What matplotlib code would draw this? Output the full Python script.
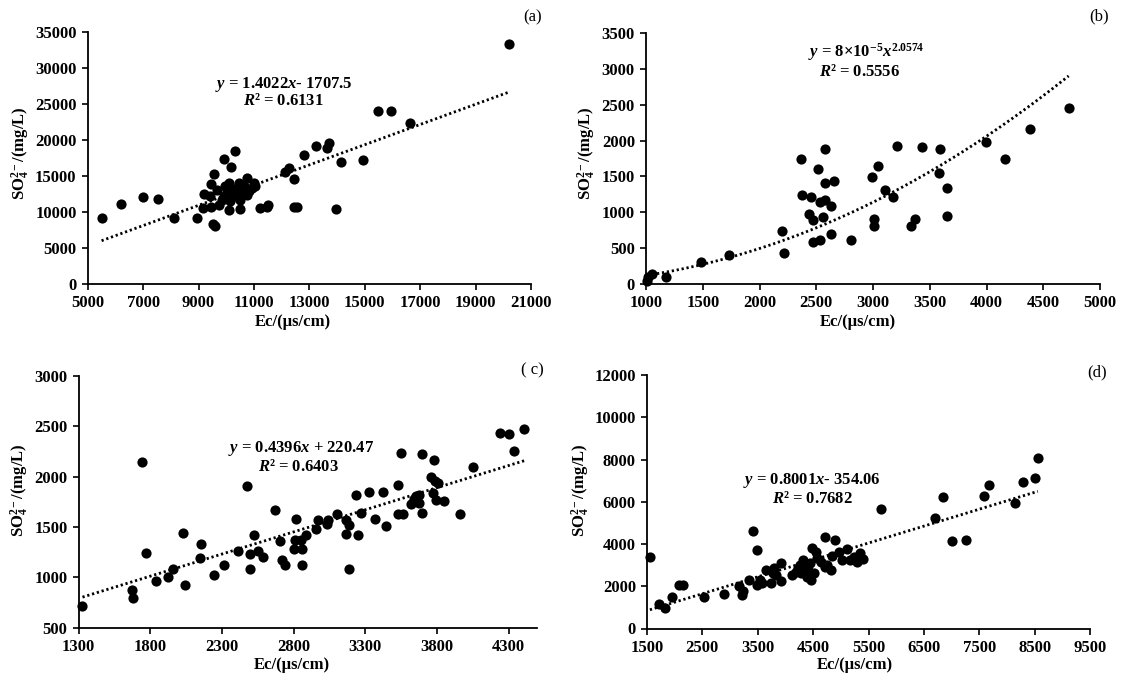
import numpy as np
import matplotlib
matplotlib.use("Agg")
import matplotlib.pyplot as plt

# Ec (us/cm) and SO4 2- (mg/L) for the four groups of samples
ec_a = [5500, 6200, 7000, 7550, 8100, 8950, 9930, 9550, 9450, 9180, 9400, 9670,
        9170, 9440, 9730, 9510, 9600, 10170, 10330, 10090, 10740, 10400, 10630,
        10930, 11050, 10030, 10270, 10510, 10750, 9850, 10150, 10510, 10090,
        10500, 9970, 10210, 10810, 10990, 10450, 9910, 11230, 11470, 11520,
        12130, 12250, 12430, 12450, 12560, 12790, 13230, 13640, 13700, 13960,
        14140, 14930, 15480, 15930, 16630, 20200]
so4_a = [9100, 11100, 12100, 11800, 9150, 9150, 17300, 15300, 13850, 12500,
         12150, 13100, 10600, 10650, 11000, 8300, 8050, 16200, 18400, 14050,
         14750, 13300, 13550, 13300, 13600, 12600, 12150, 12600, 12400, 11700,
         11450, 11700, 10200, 10400, 13550, 12850, 12850, 14000, 14000, 12150,
         10500, 10750, 10900, 15600, 16050, 14600, 10650, 10700, 17900, 19150,
         18900, 19550, 10450, 16950, 17200, 23950, 23950, 22350, 33300]

ec_b = [1010, 1016, 1053, 1179, 1481, 1732, 2194, 2216, 2370, 2377, 2436, 2455,
        2468, 2468, 2518, 2530, 2537, 2558, 2574, 2577, 2580, 2628, 2628, 2656,
        2806, 2989, 3008, 3008, 3045, 3105, 3177, 3215, 3335, 3366, 3435, 3586,
        3583, 3655, 3655, 3995, 4165, 4380, 4724]
so4_b = [42, 93, 135, 102, 307, 404, 739, 428, 1739, 1241, 981, 1209, 893, 586,
         1599, 1139, 618, 934, 1888, 1413, 1172, 1088, 697, 1437, 614, 1492, 907,
         814, 1650, 1311, 1209, 1920, 804, 902, 1915, 1883, 1548, 1334, 944,
         1985, 1743, 2162, 2459]

ec_c = [1327, 1670, 1677, 1742, 1767, 1843, 1925, 1958, 2030, 2042, 2146, 2154,
        2243, 2312, 2414, 2474, 2494, 2494, 2523, 2553, 2585, 2667, 2702, 2722,
        2739, 2801, 2816, 2809, 2861, 2861, 2888, 2853, 2958, 2970, 3032, 3037,
        3106, 3168, 3168, 3188, 3188, 3238, 3248, 3268, 3325, 3365, 3424, 3446,
        3526, 3526, 3548, 3565, 3618, 3640, 3657, 3677, 3677, 3697, 3697, 3757,
        3781, 3771, 3789, 3806, 3794, 3851, 3963, 4049, 4240, 4302, 4340, 4409]
so4_c = [712, 871, 798, 2141, 1246, 964, 1004, 1081, 1442, 925, 1193, 1336, 1027,
         1127, 1263, 1903, 1236, 1087, 1418, 1260, 1203, 1671, 1362, 1177, 1127,
         1283, 1575, 1376, 1279, 1127, 1418, 1369, 1485, 1571, 1534, 1574, 1634,
         1571, 1429, 1525, 1087, 1823, 1418, 1644, 1843, 1581, 1843, 1512, 1922,
         1634, 2237, 1634, 1730, 1783, 1810, 1817, 1737, 2230, 1644, 1999, 2164,
         1833, 1956, 1933, 1767, 1760, 1631, 2098, 2430, 2420, 2257, 2473]

ec_d = [1552, 1713, 1829, 1945, 2081, 2158, 2532, 2894, 3158, 3216, 3229, 3339,
        3416, 3481, 3481, 3532, 3577, 3655, 3739, 3771, 3790, 3835, 3913, 3913,
        4126, 4190, 4223, 4268, 4287, 4319, 4352, 4384, 4416, 4448, 4468, 4481,
        4513, 4545, 4577, 4642, 4706, 4706, 4758, 4816, 4848, 4900, 4965, 5029,
        5113, 5158, 5242, 5287, 5339, 5403, 5719, 6706, 6848, 7016, 7255, 7584,
        7674, 8145, 8287, 8513, 8558]
so4_d = [3375, 1151, 994, 1483, 2066, 2066, 1514, 1640, 2035, 1593, 1798, 2303,
         4606, 3722, 2066, 2303, 2177, 2776, 2177, 2618, 2855, 2539, 3091, 2256,
         2539, 2697, 2855, 3013, 2618, 3249, 2934, 2461, 2776, 3091, 2303, 3833,
         2618, 3644, 3328, 3170, 4353, 2934, 3013, 2776, 3454, 4196, 3612, 3249,
         3785, 3249, 3407, 3170, 3565, 3312, 5647, 5221, 6246, 4164, 4196, 6293,
         6798, 5931, 6956, 7145, 8060]

W, H = 1121, 674

params = {
    "font.family": "serif",
    "font.serif": ["Liberation Serif", "DejaVu Serif"],
    "font.weight": "bold",
    "font.size": 12,
    "mathtext.fontset": "custom",
    "mathtext.rm": "Liberation Serif:bold",
    "mathtext.bf": "Liberation Serif:bold",
    "mathtext.it": "Liberation Serif:italic:bold",
    "axes.linewidth": 1.3,
}
plt.rcParams.update(params)

fig = plt.figure(figsize=(W / 100, H / 100), dpi=100)


def px(x, y):
    # pixel position -> figure fraction
    return x / W, 1 - y / H


def panel(rect, ec, so4, xlim, xticks, ylim, yticks, fit, eq, r2, tag,
          eq_xy, r2_xy, tag_xy, xl_xy, yl_xy):
    l, t, r, b = rect
    ax = fig.add_axes([l / W, 1 - b / H, (r - l) / W, (b - t) / H])
    ax.scatter(ec, so4, s=54, color="black", zorder=3, clip_on=False,
               linewidths=0)
    xf = np.linspace(min(ec), max(ec), 300)
    ax.plot(xf, fit(xf), color="black", lw=2.0, ls=(0, (0.8, 1.0)), zorder=2)
    ax.set_xlim(*xlim)
    ax.set_ylim(*ylim)
    ax.set_xticks(xticks)
    ax.set_yticks(yticks)
    for s in ["top", "right"]:
        ax.spines[s].set_visible(False)
    ax.tick_params(direction="out", length=4, width=1.2, labelsize=12, pad=4)
    fig.text(*px(*eq_xy), eq, ha="center", va="center", fontsize=12)
    fig.text(*px(*r2_xy), r2, ha="center", va="center", fontsize=12)
    fig.text(*px(*tag_xy), tag, ha="center", va="center", fontsize=12,
             fontweight="normal")
    fig.text(*px(*xl_xy), "Ec/(μs/cm)", ha="center", va="center", fontsize=12)
    fig.text(*px(*yl_xy), r"SO$_{\mathbf{4}}^{\mathbf{2-}}$/(mg/L)",
             ha="center", va="center", fontsize=12, rotation=90)
    return ax


panel((87.7, 31.7, 531, 284), ec_a, so4_a, (5000, 21000),
      np.arange(5000, 21001, 2000), (0, 35000), np.arange(0, 35001, 5000),
      lambda x: 1.4022 * x - 1707.5,
      r"$\mathit{y}$ = 1.4022$\mathit{x}$- 1707.5",
      r"$\mathit{R}$² = 0.6131", "(a)",
      (284, 84), (283, 101), (533, 17), (293, 322), (21, 153))

panel((646, 33, 1100, 284), ec_b, so4_b, (1000, 5000),
      np.arange(1000, 5001, 500), (0, 3500), np.arange(0, 3501, 500),
      lambda x: 8e-5 * x ** 2.0574,
      r"$\mathit{y}$ = 8×10$^{\mathbf{-5}}$$\mathit{x}^{\mathbf{2.0574}}$",
      r"$\mathit{R}$² = 0.5556", "(b)",
      (866, 52), (860, 72), (1099, 16), (858, 322), (587, 153))

panel((78.6, 376, 537.3, 627.7), ec_c, so4_c, (1300, 4500),
      np.arange(1300, 4301, 500), (500, 3000), np.arange(500, 3001, 500),
      lambda x: 0.4396 * x + 220.47,
      r"$\mathit{y}$ = 0.4396$\mathit{x}$ + 220.47",
      r"$\mathit{R}$² = 0.6403", "( c)",
      (301, 448), (299, 467), (532, 370), (292, 665), (20, 490))

panel((647, 375, 1090, 628.5), ec_d, so4_d, (1500, 9500),
      np.arange(1500, 9501, 1000), (0, 12000), np.arange(0, 12001, 2000),
      lambda x: 0.8001 * x - 354.06,
      r"$\mathit{y}$ = 0.8001$\mathit{x}$- 354.06",
      r"$\mathit{R}$² = 0.7682", "(d)",
      (812, 481), (812, 499), (1097, 372), (855, 665), (581, 490))

fig.savefig("out.png", dpi=100)
